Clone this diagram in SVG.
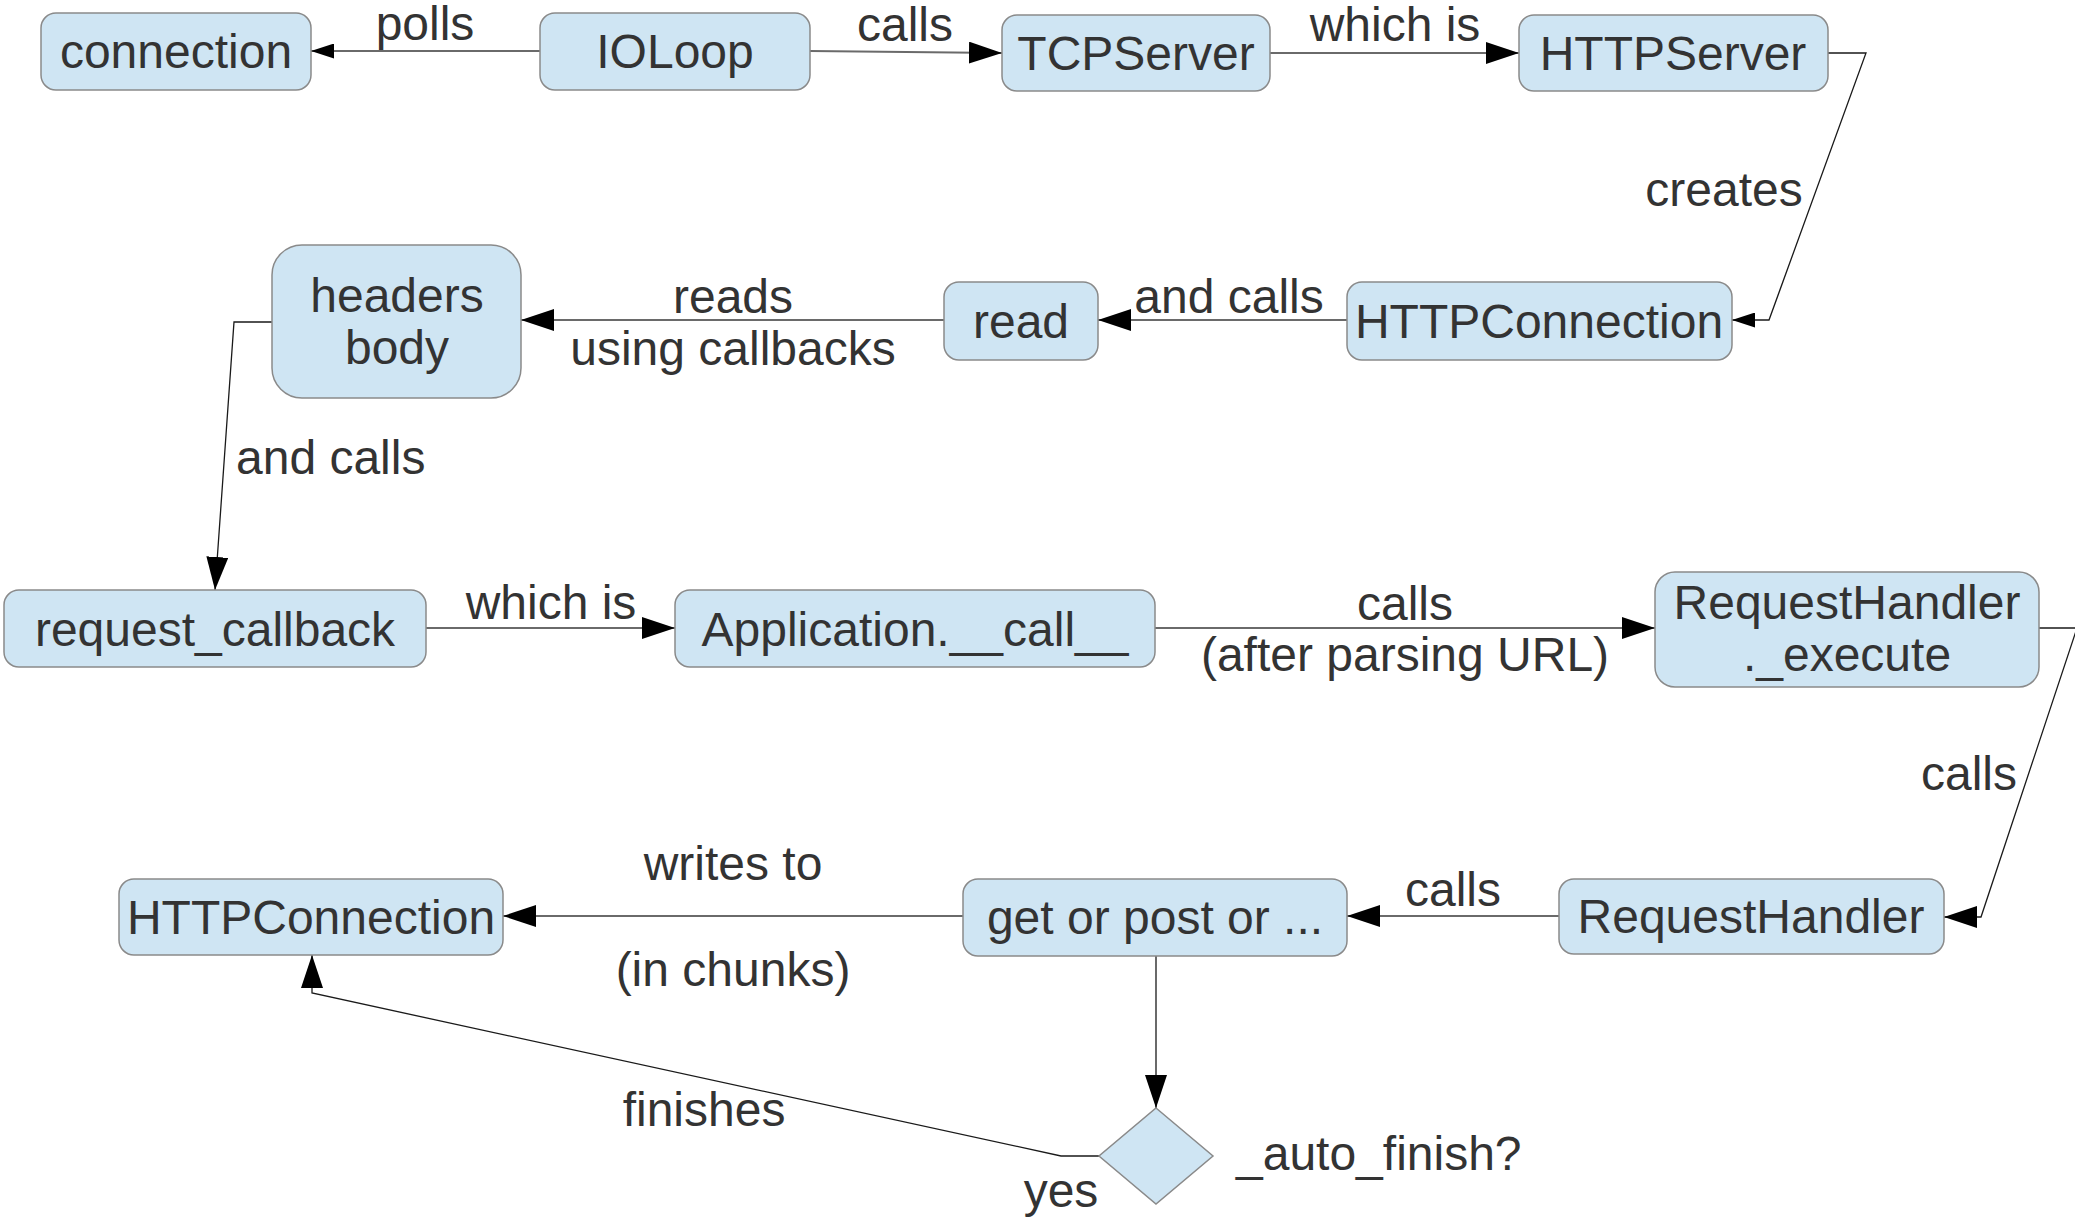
<svg xmlns="http://www.w3.org/2000/svg" width="2075" height="1218" viewBox="0 0 2075 1218">
<style>
.box{fill:#cfe5f3;stroke:#8a8a8a;stroke-width:1.5}
.t{font-family:"Liberation Sans",Arial,sans-serif;font-size:48px;fill:#333333;text-anchor:middle}
.ts{font-family:"Liberation Sans",Arial,sans-serif;font-size:48px;fill:#333333}
.c{fill:none;stroke:#6a6a6a;stroke-width:2}
.d{fill:none;stroke:#1a1a1a;stroke-width:1.3}
</style>
<defs>
<marker id="a" markerUnits="userSpaceOnUse" markerWidth="33" markerHeight="22" refX="33" refY="11" orient="auto"><path d="M0,0 L33,11 L0,22 z" fill="#000"/></marker>
<marker id="s" markerUnits="userSpaceOnUse" markerWidth="23" markerHeight="15" refX="23" refY="7.5" orient="auto"><path d="M0,0 L23,7.5 L0,15 z" fill="#000"/></marker>
</defs>
<g id="connectors">
<line class="c" x1="540" y1="51" x2="311" y2="51" marker-end="url(#s)"/>
<line class="c" x1="810" y1="51" x2="1002" y2="53" marker-end="url(#a)"/>
<line class="c" x1="1270" y1="53" x2="1519" y2="53" marker-end="url(#a)"/>
<polyline class="d" points="1828,53 1866,53 1769,320 1732,320" marker-end="url(#s)"/>
<line class="c" x1="1347" y1="320" x2="1098" y2="320" marker-end="url(#a)"/>
<line class="c" x1="944" y1="320" x2="521" y2="320" marker-end="url(#a)"/>
<polyline class="d" points="272,322 234,322 215,590" marker-end="url(#a)"/>
<line class="c" x1="426" y1="628" x2="675" y2="628" marker-end="url(#a)"/>
<line class="c" x1="1155" y1="628" x2="1655" y2="628" marker-end="url(#a)"/>
<polyline class="d" points="2039,628 2077,628 1981,917 1944,917" marker-end="url(#a)"/>
<line class="c" x1="1559" y1="916" x2="1347" y2="916" marker-end="url(#a)"/>
<line class="c" x1="963" y1="916" x2="503" y2="916" marker-end="url(#a)"/>
<line class="d" x1="1156" y1="956" x2="1156" y2="1108" marker-end="url(#a)"/>
<polyline class="d" points="1099,1156 1061,1156 312,993 312,955" marker-end="url(#a)"/>
<text class="t" x="425" y="40">polls</text>
<text class="t" x="905" y="41">calls</text>
<text class="t" x="1395" y="41">which is</text>
<text class="t" x="1724" y="206">creates</text>
<text class="t" x="1229" y="313">and calls</text>
<text class="t" x="733" y="313">reads</text>
<text class="t" x="733" y="365">using callbacks</text>
<text class="ts" x="236" y="474">and calls</text>
<text class="t" x="551" y="619">which is</text>
<text class="t" x="1405" y="620">calls</text>
<text class="t" x="1405" y="671">(after parsing URL)</text>
<text class="t" x="1969" y="790">calls</text>
<text class="t" x="1453" y="906">calls</text>
<text class="t" x="733" y="880">writes to</text>
<text class="t" x="733" y="986">(in chunks)</text>
<text class="t" x="704" y="1126">finishes</text>
<text class="t" x="1061" y="1207">yes</text>
</g>
<g id="connection"><rect class="box" x="41" y="13" width="270" height="77" rx="15"/><text class="t" x="176" y="68">connection</text></g>
<g id="ioloop"><rect class="box" x="540" y="13" width="270" height="77" rx="15"/><text class="t" x="675" y="68">IOLoop</text></g>
<g id="tcpserver"><rect class="box" x="1002" y="15" width="268" height="76" rx="15"/><text class="t" x="1136" y="70">TCPServer</text></g>
<g id="httpserver"><rect class="box" x="1519" y="15" width="309" height="76" rx="15"/><text class="t" x="1673" y="70">HTTPServer</text></g>
<g id="httpconnection1"><rect class="box" x="1347" y="282" width="385" height="78" rx="15"/><text class="t" x="1539" y="338">HTTPConnection</text></g>
<g id="read"><rect class="box" x="944" y="282" width="154" height="78" rx="15"/><text class="t" x="1021" y="338">read</text></g>
<g id="headers_body"><rect class="box" x="272" y="245" width="249" height="153" rx="30"/><text class="t" x="397" y="312">headers</text><text class="t" x="397" y="364">body</text></g>
<g id="request_callback"><rect class="box" x="4" y="590" width="422" height="77" rx="15"/><text class="t" x="215" y="646">request_callback</text></g>
<g id="application_call"><rect class="box" x="675" y="590" width="480" height="77" rx="15"/><text class="t" x="915" y="646">Application.__call__</text></g>
<g id="requesthandler_execute"><rect class="box" x="1655" y="572" width="384" height="115" rx="20"/><text class="t" x="1847" y="619">RequestHandler</text><text class="t" x="1847" y="671">._execute</text></g>
<g id="requesthandler"><rect class="box" x="1559" y="879" width="385" height="75" rx="15"/><text class="t" x="1751" y="933">RequestHandler</text></g>
<g id="get_or_post"><rect class="box" x="963" y="879" width="384" height="77" rx="15"/><text class="t" x="1155" y="934">get or post or ...</text></g>
<g id="httpconnection2"><rect class="box" x="119" y="879" width="384" height="76" rx="15"/><text class="t" x="311" y="934">HTTPConnection</text></g>
<g id="auto_finish"><polygon class="box" points="1156,1108 1213,1156 1156,1204 1099,1156"/><text class="ts" x="1236" y="1170">_auto_finish?</text></g>
</svg>
